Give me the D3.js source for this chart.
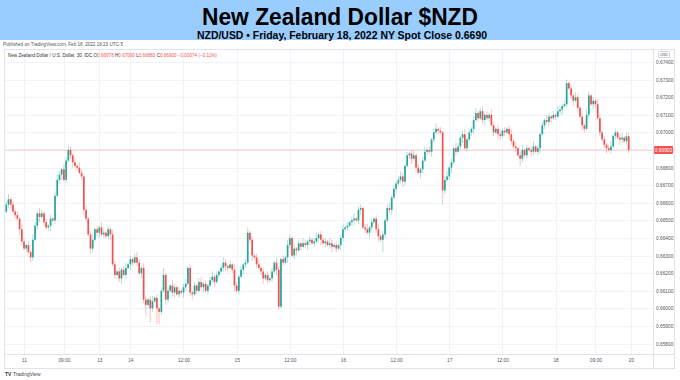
<!DOCTYPE html>
<html><head><meta charset="utf-8">
<script src="https://cdn.jsdelivr.net/npm/d3@7"></script>
<style>body{margin:0;background:#fff;} svg{display:block;font-family:"Liberation Sans",Arial,sans-serif;}</style>
</head><body><svg id="c" width="680" height="380"></svg>
<script>
// 30-minute NZD/USD candles, prices in pips (x 0.0001)
const firstOpen = 6655;
const closes = [
6659,6662,6659,6655,6653,6651,6645,6638,6634,6636,6632,6629,6639,6647,6654,6652,6654,6649,6646,6647,
6651,6650,6664,6673,6676,6679,6673,6684,6690,6687,6683,6681,6680,6677,6675,6656,6651,6642,6634,6639,
6645,6643,6646,6642,6643,6641,6645,6642,6625,6619,6621,6617,6622,6619,6623,6625,6628,6626,6629,6626,
6620,6623,6605,6602,6605,6600,6604,6606,6600,6598,6610,6619,6605,6610,6613,6609,6612,6608,6610,6609,
6612,6614,6623,6609,6608,6613,6610,6615,6612,6614,6610,6613,6616,6618,6615,6619,6621,6623,6626,6624,
6623,6625,6622,6613,6610,6618,6622,6625,6626,6643,6639,6630,6629,6625,6623,6621,6617,6619,6616,6617,
6621,6626,6622,6601,6628,6626,6629,6636,6640,6630,6634,6633,6637,6635,6637,6636,6638,6639,6637,6638,
6640,6642,6639,6637,6638,6636,6637,6635,6636,6634,6636,6640,6645,6646,6647,6649,6650,6651,6650,6656,
6657,6646,6645,6643,6646,6649,6651,6645,6641,6639,6642,6650,6657,6656,6663,6668,6671,6673,6675,6672,
6681,6687,6688,6685,6687,6680,6677,6679,6684,6689,6690,6689,6696,6700,6702,6701,6700,6667,6673,6675,
6680,6683,6691,6689,6692,6697,6699,6691,6696,6700,6702,6707,6711,6708,6712,6707,6710,6708,6710,6704,
6700,6702,6699,6698,6701,6700,6702,6699,6695,6692,6691,6687,6685,6690,6687,6691,6690,6689,6692,6689,
6691,6699,6704,6707,6706,6709,6708,6710,6709,6712,6713,6715,6716,6728,6725,6721,6718,6720,6714,6709,
6704,6702,6710,6721,6716,6718,6716,6708,6700,6696,6693,6691,6690,6692,6698,6700,6697,6696,6697,6695,
6697.8,6690];
const wickHi = [
2,3,1,2,1,2,1,3,2,1,2,1,3,2,1,3,2,1,2,1,
2,1,2,3,2,1,3,2,3,2,1,2,1,3,2,1,2,1,2,3,
1,2,1,3,2,1,2,1,3,2,1,2,1,2,3,1,2,1,2,3,
2,1,3,2,1,2,3,1,2,1,2,4,1,2,1,3,2,1,2,1,
2,3,1,2,1,2,1,2,3,1,2,1,2,3,1,2,1,2,3,2,
1,2,1,3,2,1,2,1,2,3,1,2,1,2,3,1,2,1,2,1,
2,1,3,2,1,2,1,3,2,1,2,1,2,1,3,2,1,2,1,2,
3,1,2,1,2,1,3,2,1,2,1,2,3,1,2,1,2,3,1,2,
2,1,2,3,1,2,1,2,3,1,2,1,2,3,1,2,1,2,3,2,
1,2,1,2,3,1,2,1,2,3,1,2,1,2,3,1,2,1,2,3,
1,2,1,3,2,1,2,3,1,2,1,2,3,1,2,3,1,2,1,3,
2,1,2,3,1,2,1,2,3,1,2,1,2,3,1,2,1,2,3,1,
2,1,2,1,3,2,1,2,1,3,2,1,2,2,1,2,1,3,2,1,
2,1,3,2,1,2,1,3,2,1,2,1,2,3,1,2,1,2,3,1,
2,2.2];
const wickLo = [
1,2,3,1,2,1,3,2,1,2,1,3,2,1,2,3,1,2,1,2,
3,1,2,1,2,3,1,2,1,2,3,1,2,1,2,3,2,1,3,2,
1,2,3,1,2,1,2,3,1,2,1,2,3,1,2,1,3,2,1,2,
1,3,2,6,1,8,2,1,9,7,2,1,3,2,1,2,3,1,2,1,
3,2,1,2,3,1,2,1,2,3,1,2,1,2,3,1,2,1,2,3,
2,1,2,3,1,2,1,3,2,1,2,3,1,2,1,2,3,1,2,1,
2,1,3,2,1,2,1,3,2,1,2,3,1,2,1,2,3,2,1,2,
1,2,3,1,2,1,2,3,1,2,1,3,2,1,2,1,2,3,1,2,
3,1,2,1,3,2,1,2,3,1,7,2,1,2,3,1,2,1,2,3,
2,1,2,3,1,2,1,3,2,1,2,1,3,2,1,2,1,8,2,1,
2,3,1,2,1,2,3,1,2,1,2,3,1,2,1,2,3,1,2,1,
2,1,3,2,1,2,1,3,2,1,2,1,4,2,1,2,1,3,2,1,
2,3,1,2,1,2,3,1,2,1,2,3,1,2,1,2,3,1,2,1,
3,2,1,2,1,3,2,1,2,1,2,3,1,2,1,2,1,3,2,1,
2,1.7];
const priceTicks = [0.658,0.659,0.660,0.661,0.662,0.663,0.664,0.665,0.666,0.667,0.668,0.669,0.670,0.671,0.672,0.673,0.674];
const timeTickIndex = [8,26,42,56,80,104,128,152,176,200,224,248,266,282];
const timeTickLabels = ["11","09:00","13","14","12:00","15","12:00","16","12:00","17","12:00","18","09:00","20"];
const lastPrice = 0.669;
const legendLabels = ["O","H","L","C"];
const legendValues = ["0.66978","0.67000","0.66883","0.66900"];
const legendChange = "\u22120.00074 (\u22120.11%)";

const UP = "#26a69a", DOWN = "#ef5350";
const svg = d3.select("#c");

const candles = closes.map((c, i) => {
  const o = i === 0 ? firstOpen : closes[i-1];
  return {i, o: o/10000, c: c/10000,
          h: (Math.max(o, c) + wickHi[i])/10000,
          l: (Math.min(o, c) - wickLo[i])/10000};
});

const plot = {l: 5, r: 653, t: 50, b: 354};
const x = d3.scaleLinear().domain([0, 282]).range([6.3, 630.9]);
const y = d3.scaleLinear().domain([0.658, 0.674]).range([343.6, 62]);

// title band
svg.append("rect").attr("x", 0).attr("y", 0).attr("width", 680).attr("height", 40).attr("fill", "#99ccff");
svg.append("text").attr("x", 340).attr("y", 24.5).attr("text-anchor", "middle")
  .attr("font-family", "'Liberation Sans Narrow','Liberation Sans',Arial,sans-serif")
  .attr("font-weight", "bold").attr("font-size", 23.5).attr("fill", "#000")
  .attr("textLength", 276).attr("lengthAdjust", "spacingAndGlyphs")
  .text("New Zealand Dollar $NZD");
svg.append("text").attr("x", 342).attr("y", 39).attr("text-anchor", "middle")
  .attr("font-family", "'Liberation Sans Narrow','Liberation Sans',Arial,sans-serif")
  .attr("font-weight", "bold").attr("font-size", 11).attr("fill", "#000")
  .attr("textLength", 290).attr("lengthAdjust", "spacingAndGlyphs")
  .text("NZD/USD \u2022 Friday, February 18, 2022 NY Spot Close 0.6690");

svg.append("text").attr("x", 3).attr("y", 45.5).attr("font-size", 4.6).attr("fill", "#555")
  .text("Published on TradingView.com, Feb 18, 2022 18:23 UTC-5");

// frame
svg.append("rect").attr("x", 4.5).attr("y", 49.5).attr("width", 670).attr("height", 319)
  .attr("fill", "none").attr("stroke", "#e0e3eb");

// grid
const g = svg.append("g");
g.selectAll(".hg").data(priceTicks).join("line")
  .attr("x1", plot.l).attr("x2", plot.r)
  .attr("y1", d => Math.round(y(d)) + 0.5).attr("y2", d => Math.round(y(d)) + 0.5)
  .attr("stroke", "#f0f3fa");
g.selectAll(".vg").data(timeTickIndex).join("line")
  .attr("y1", plot.t).attr("y2", plot.b)
  .attr("x1", d => Math.round(x(d)) + 0.5).attr("x2", d => Math.round(x(d)) + 0.5)
  .attr("stroke", "#f0f3fa");

// separators
svg.append("line").attr("x1", 653.5).attr("x2", 653.5).attr("y1", 50).attr("y2", 369).attr("stroke", "#e0e3eb");
svg.append("line").attr("x1", 5).attr("x2", 674).attr("y1", 354.5).attr("y2", 354.5).attr("stroke", "#e0e3eb");

// price axis
const yAxis = d3.axisRight(y).tickValues(priceTicks).tickSize(0).tickPadding(0)
  .tickFormat(d3.format(".5f"));
const ya = svg.append("g").attr("transform", "translate(656,0)").call(yAxis);
ya.select(".domain").remove();
ya.selectAll("text").attr("font-size", 4.8).attr("fill", "#555").attr("font-family", "'Liberation Sans',Arial,sans-serif");

// x axis
const xAxis = d3.axisBottom(x).tickValues(timeTickIndex).tickSize(0).tickPadding(0)
  .tickFormat((d, k) => timeTickLabels[k]);
const xa = svg.append("g").attr("transform", "translate(0,359)").call(xAxis);
xa.select(".domain").remove();
xa.selectAll("text").attr("font-size", 4.8).attr("fill", "#555").attr("font-family", "'Liberation Sans',Arial,sans-serif");

// last price line
svg.append("line").attr("x1", plot.l).attr("x2", plot.r)
  .attr("y1", y(lastPrice)).attr("y2", y(lastPrice))
  .attr("stroke", DOWN).attr("stroke-opacity", 0.35).attr("stroke-width", 0.8);

// candles
const cg = svg.append("g");
const bw = 1.7;
cg.selectAll(".w").data(candles).join("line")
  .attr("x1", d => x(d.i)).attr("x2", d => x(d.i))
  .attr("y1", d => y(d.h)).attr("y2", d => y(d.l))
  .attr("stroke", d => d.c >= d.o ? UP : DOWN).attr("stroke-opacity", 0.45).attr("stroke-width", 0.8);
cg.selectAll(".b").data(candles).join("rect")
  .attr("x", d => x(d.i) - bw/2).attr("width", bw)
  .attr("y", d => y(Math.max(d.o, d.c)))
  .attr("height", d => Math.max(0.8, Math.abs(y(d.o) - y(d.c))))
  .attr("fill", d => d.c >= d.o ? UP : DOWN);

// last price label
svg.append("rect").attr("x", 654).attr("y", y(lastPrice) - 4).attr("width", 19).attr("height", 8)
  .attr("fill", DOWN).attr("rx", 1);
svg.append("text").attr("x", 663.5).attr("y", y(lastPrice) + 1.7).attr("text-anchor", "middle")
  .attr("font-size", 4.8).attr("fill", "#fff").text(d3.format(".5f")(lastPrice));

// USD badge
svg.append("rect").attr("x", 658.5).attr("y", 51.5).attr("width", 11).attr("height", 6)
  .attr("fill", "#fff").attr("stroke", "#d0d3db").attr("rx", 1);
svg.append("text").attr("x", 664).attr("y", 56).attr("text-anchor", "middle")
  .attr("font-size", 3.8).attr("fill", "#555").text("USD");

// legend
const lg = svg.append("text").attr("x", 8).attr("y", 56.5).attr("font-size", 4.6);
lg.append("tspan").attr("fill", "#333").text("New Zealand Dollar / U.S. Dollar, 30, IDC ");
legendLabels.forEach((k, n) => {
  lg.append("tspan").attr("fill", "#333").text(" " + k);
  lg.append("tspan").attr("fill", DOWN).text(legendValues[n]);
});
lg.append("tspan").attr("fill", DOWN).text("  " + legendChange);

// TradingView mark
svg.append("text").attr("x", 5).attr("y", 376).attr("font-size", 5).attr("fill", "#333")
  .attr("font-weight", "bold").text("TV");
svg.append("text").attr("x", 13).attr("y", 376).attr("font-size", 5).attr("fill", "#444")
  .text("TradingView");
</script></body></html>
